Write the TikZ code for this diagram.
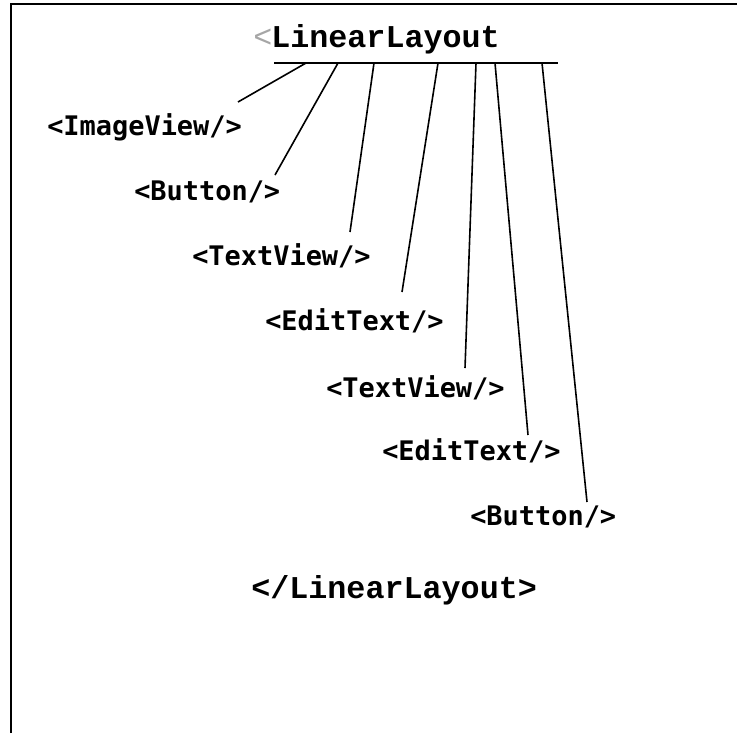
\documentclass[tikz,border=0pt]{standalone}
\usepackage{fontspec}
\newfontfamily\labfont{DejaVu Sans Mono}
\newfontfamily\courfont{Liberation Mono}
\begin{document}
\begin{tikzpicture}[x=0.75pt,y=-0.75pt,
  lab/.style={inner sep=0pt,anchor=base west,font=\labfont\bfseries\fontsize{20.2pt}{24pt}\selectfont},
  cour/.style={inner sep=0pt,anchor=base west,font=\courfont\bfseries\fontsize{23.8pt}{28pt}\selectfont},
  link/.style={line width=1.2pt,black},
  frame/.style={line width=1.6pt,black}]
\useasboundingbox (0,0) rectangle (737,733);
% frame (top and left edges)
\coordinate (fTL) at (11,4);
\coordinate (fTR) at (737,4);
\coordinate (fBL) at (11,733);
\draw[frame] (fBL) -- (fTL) -- (fTR);
% title
\node[inner sep=0pt,anchor=base west,text=gray!70,font=\courfont\fontsize{23.8pt}{28pt}\selectfont] (lt) at (253,47) {<};
\node[cour] (title) at (271,47) {LinearLayout};
\coordinate (barL) at (274,63);
\coordinate (barR) at (558,63);
\draw[link] (barL) -- (barR);
% labels
\node[lab] (iv) at (47,135) {<ImageView/>};
\node[lab] (b1) at (134,200) {<Button/>};
\node[lab] (tv1) at (192,265) {<TextView/>};
\node[lab] (et1) at (265,330) {<EditText/>};
\node[lab] (tv2) at (326,397) {<TextView/>};
\node[lab] (et2) at (382,460) {<EditText/>};
\node[lab] (b2) at (470,525) {<Button/>};
\node[cour] (close) at (251,598) {</LinearLayout>};
% connector ends
\coordinate (s1) at (306,63); \coordinate (e1) at (238,102);
\coordinate (s2) at (338,63); \coordinate (e2) at (275,175);
\coordinate (s3) at (374,63); \coordinate (e3) at (350,232);
\coordinate (s4) at (438,63); \coordinate (e4) at (402,292);
\coordinate (s5) at (476,63); \coordinate (e5) at (465,368);
\coordinate (s6) at (495,63); \coordinate (e6) at (528,435);
\coordinate (s7) at (542,63); \coordinate (e7) at (587,502);
\foreach \i in {1,...,7} {\draw[link] (s\i) -- (e\i);}
\end{tikzpicture}
\end{document}
